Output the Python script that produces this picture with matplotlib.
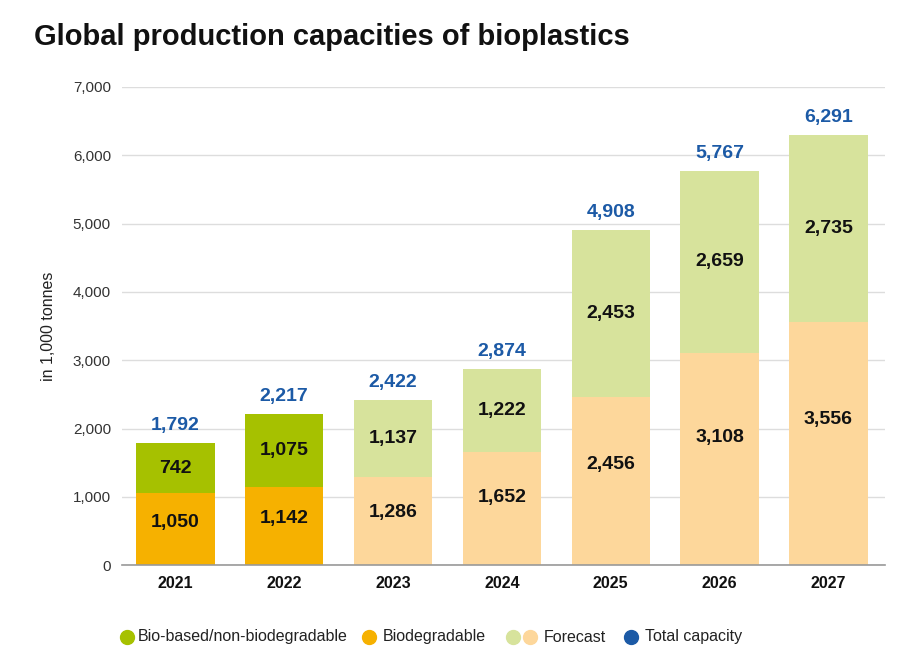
import matplotlib.pyplot as plt
from matplotlib.lines import Line2D

plt.rcParams['font.family'] = ['Liberation Sans', 'DejaVu Sans']

# data (1,000 tonnes)
years = ['2021', '2022', '2023', '2024', '2025', '2026', '2027']
biodegradable = [1050, 1142, 1286, 1652, 2456, 3108, 3556]
bio_based = [742, 1075, 1137, 1222, 2453, 2659, 2735]
totals = [1792, 2217, 2422, 2874, 4908, 5767, 6291]
n_actual = 2  # 2021-2022 actual, rest forecast

# colours
green = '#a6c100'
orange = '#f6b100'
green_fc = '#d7e39c'
orange_fc = '#fdd79b'
blue = '#1c5aa6'

fig = plt.figure(figsize=(9.04, 6.58), dpi=100)
ax = fig.add_axes([0.135, 0.141, 0.844, 0.727])

x = list(range(len(years)))
col_bot = [orange if i < n_actual else orange_fc for i in x]
col_top = [green if i < n_actual else green_fc for i in x]

ax.bar(x, biodegradable, width=0.72, color=col_bot, zorder=2)
ax.bar(x, bio_based, width=0.72, bottom=biodegradable, color=col_top, zorder=2)

for i in x:
    b, t = biodegradable[i], bio_based[i]
    ax.text(i, b * 0.6, f'{b:,}', ha='center', va='center',
            fontsize=14, fontweight='bold', color='#111111', zorder=3)
    ax.text(i, b + t * 0.5, f'{t:,}', ha='center', va='center',
            fontsize=14, fontweight='bold', color='#111111', zorder=3)
    ax.text(i, b + t + 130, f'{totals[i]:,}', ha='center', va='bottom',
            fontsize=14, fontweight='bold', color=blue, zorder=3)

ax.set_xlim(-0.49, 6.52)
ax.set_ylim(0, 7000)
ax.set_yticks(range(0, 7001, 1000))
ax.set_yticklabels([f'{v:,}' for v in range(0, 7001, 1000)])
ax.set_xticks(x)
ax.set_xticklabels(years, fontweight='bold')
ax.tick_params(axis='y', length=0, labelsize=11, labelcolor='#333333', pad=8)
ax.tick_params(axis='x', length=0, labelsize=11.5, labelcolor='#111111', pad=8)
ax.grid(axis='y', color='#dddddd', linewidth=1, zorder=0)
for s in ['top', 'right', 'left']:
    ax.spines[s].set_visible(False)
ax.spines['bottom'].set_color('#999999')
ax.spines['bottom'].set_linewidth(1.2)
ax.spines['bottom'].set_zorder(4)

ax.set_ylabel('in 1,000 tonnes', fontsize=11.5, color='#222222', labelpad=12)

fig.text(0.038, 0.965, 'Global production capacities of bioplastics',
         fontsize=21, fontweight='bold', va='top', ha='left', color='#111111')

# legend drawn by hand so the two forecast dots sit side by side
W, H = 904, 658
ly = 1 - 637 / H
legend_items = [
    ([127], [green], 138, 'Bio-based/non-biodegradable'),
    ([369], [orange], 383, 'Biodegradable'),
    ([513, 530], [green_fc, orange_fc], 544, 'Forecast'),
    ([631], [blue], 645, 'Total capacity'),
]
for xs, cols, tx, label in legend_items:
    for px, c in zip(xs, cols):
        fig.add_artist(Line2D([px / W], [ly], marker='o', markersize=10,
                              markerfacecolor=c, markeredgecolor=c,
                              linestyle='none', transform=fig.transFigure))
    fig.text(tx / W, ly, label, fontsize=11.5, color='#222222',
             ha='left', va='center')

fig.savefig('out.png', dpi=100)
